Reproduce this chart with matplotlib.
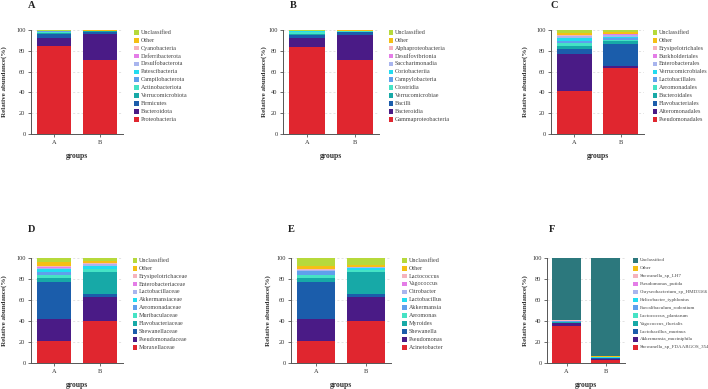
import matplotlib
matplotlib.use("Agg")
import matplotlib.pyplot as plt
from matplotlib.patches import Rectangle
import numpy as np

plt.rcParams['font.family'] = ['Liberation Serif', 'DejaVu Serif']

groups = ["A", "B"]

# ---- Panel A: phylum (bottom -> top) ----
phylum_taxa = ["Proteobacteria", "Bacteroidota", "Firmicutes", "Verrucomicrobiota",
               "Actinobacteriota", "Campilobacterota", "Patescibacteria", "Desulfobacterota",
               "Deferribacterota", "Cyanobacteria", "Other", "Unclassified"]
phylum_A = [84.2, 7.9, 3.6, 1.6, 1.2, 0.3, 0.3, 0.1, 0.1, 0.1, 0.1, 0.5]
phylum_B = [70.9, 24.8, 2.4, 0.7, 0.3, 0.1, 0.1, 0.1, 0.1, 0.0, 0.1, 0.4]

# ---- Panel B: class ----
class_taxa = ["Gammaproteobacteria", "Bacteroidia", "Bacilli", "Verrucomicrobiae",
              "Clostridia", "Campylobacteria", "Coriobacteriia", "Saccharimonadia",
              "Desulfovibrionia", "Alphaproteobacteria", "Other", "Unclassified"]
class_A = [84.0, 7.9, 3.0, 1.6, 1.6, 0.3, 0.3, 0.3, 0.1, 0.2, 0.2, 0.5]
class_B = [70.8, 24.6, 2.2, 0.7, 0.6, 0.1, 0.2, 0.1, 0.1, 0.1, 0.1, 0.4]

# ---- Panel C: order ----
order_taxa = ["Pseudomonadales", "Alteromonadales", "Flavobacteriales", "Bacteroidales",
              "Aeromonadales", "Lactobacillales", "Verrucomicrobiales", "Enterobacterales",
              "Burkholderiales", "Erysipelotrichales", "Other", "Unclassified"]
order_A = [41.7, 35.5, 4.5, 2.5, 3.5, 2.0, 3.0, 1.5, 0.5, 0.8, 1.5, 3.0]
order_B = [63.1, 2.6, 21.2, 2.8, 1.0, 1.5, 1.0, 2.0, 0.5, 0.5, 1.5, 2.3]

# ---- Panel D: family ----
family_taxa = ["Moraxellaceae", "Pseudomonadaceae", "Shewanellaceae", "Flavobacteriaceae",
               "Muribaculaceae", "Aeromonadaceae", "Akkermansiaceae", "Lactobacillaceae",
               "Enterobacteriaceae", "Erysipelotrichaceae", "Other", "Unclassified"]
family_A = [20.5, 21.5, 35.0, 4.0, 2.5, 3.0, 3.0, 1.0, 0.5, 1.0, 4.0, 4.0]
family_B = [40.3, 22.6, 3.1, 20.3, 3.2, 0.5, 2.0, 2.0, 0.5, 0.3, 2.2, 3.0]

# ---- Panel E: genus ----
genus_taxa = ["Acinetobacter", "Pseudomonas", "Shewanella", "Myroides", "Aeromonas",
              "Akkermansia", "Lactobacillus", "Citrobacter", "Vagococcus", "Lactococcus",
              "Other", "Unclassified"]
genus_A = [20.6, 21.6, 34.9, 3.8, 3.2, 3.2, 0.3, 1.2, 0.2, 0.5, 2.5, 8.0]
genus_B = [40.3, 22.5, 3.2, 20.3, 1.8, 0.5, 2.2, 0.5, 0.2, 0.3, 1.7, 6.5]

# ---- Panel F: species ----
species_taxa = ["Shewanella_sp_FDAARGOS_354", "Akkermansia_muciniphila", "Lactobacillus_murinus",
                "Vagococcus_fluvialis", "Lactococcus_plantarum", "Faecalibaculum_rodentium",
                "Helicobacter_typhlonius", "Chryseobacterium_sp_HMD3166", "Pseudomonas_putida",
                "Shewanella_sp_LH7", "Other", "Unclassified"]
species_A = [35.5, 2.5, 0.5, 0.3, 0.5, 0.3, 0.2, 0.3, 0.2, 0.2, 0.8, 58.7]
species_B = [3.0, 1.0, 0.3, 0.2, 0.5, 0.2, 0.1, 0.2, 0.1, 0.1, 0.5, 93.8]

palette = ["#E0262F", "#4A1B86", "#1B5DAB", "#17A9A7", "#45E3C5", "#5FA0EC",
           "#22DCF0", "#A9B5EE", "#E47DE7", "#F5B3BE", "#F4BF14", "#B6D93B"]
palette_F = palette[:11] + ["#2C787D"]

W, H = 708, 389
fig = plt.figure(figsize=(W / 100, H / 100), dpi=100)


def px_axes(l, r, t, b):
    return fig.add_axes([l / W, 1 - b / H, (r - l) / W, (b - t) / H])


# letter, taxa, A, B, colours, axes box px, legend x, title x, legend font, ylabel centre x
panels = [
    ("A", phylum_taxa, phylum_A, phylum_B, palette, (31, 123, 30, 134), 136.5, 32, 4.4, 4.5),
    ("B", class_taxa, class_A, class_B, palette, (283, 379, 30, 134), 391, 293, 4.4, 264),
    ("C", order_taxa, order_A, order_B, palette, (551, 644, 30, 134), 655, 554, 4.4, 525),
    ("D", family_taxa, family_A, family_B, palette, (31, 123, 258, 363), 135, 32, 4.4, 4.5),
    ("E", genus_taxa, genus_A, genus_B, palette, (291, 391, 258, 363), 404.5, 291, 4.4, 268),
    ("F", species_taxa, species_A, species_B, palette_F, (547, 625, 258, 363), 635.5, 552, 3.6, 525),
]

axis_col = "#555555"
for letter, taxa, va, vb, cols, (l, r, t, b), leg_x, title_x, lfs, ylx in panels:
    ax = px_axes(l, r, t, b)
    x = np.arange(len(groups))
    bottom = np.zeros(len(groups))
    for i, taxon in enumerate(taxa):
        vals = np.array([va[i], vb[i]])
        ax.bar(x, vals, width=0.75, bottom=bottom, color=cols[i], zorder=2, linewidth=0)
        bottom += vals
    ax.set_xlim(-0.5, 1.5)
    ax.set_ylim(0, 100)
    ax.set_yticks([0, 20, 40, 60, 80, 100])
    ax.set_xticks(x)
    ax.set_xticklabels(groups)
    for s in ["top", "right"]:
        ax.spines[s].set_visible(False)
    for s in ["left", "bottom"]:
        ax.spines[s].set_color(axis_col)
        ax.spines[s].set_linewidth(0.7)
    ax.tick_params(axis="both", labelsize=4.6, length=2.5, width=0.6, color=axis_col,
                   pad=1.5, labelcolor="#333333")
    ax.yaxis.grid(True, linestyle=(0, (3, 3)), color="#d8d8d8", linewidth=0.5, zorder=0)
    ax.set_axisbelow(True)
    ax.set_ylabel("Relative abundance(%)", fontsize=5, fontweight="bold", color="#333333")
    ax.yaxis.set_label_coords((ylx + 3 - l) / (r - l), 0.5)
    ax.set_xlabel("groups", fontsize=5.5, fontweight="bold", color="#333333")
    ax.xaxis.set_label_coords(0.5, -(18) / (b - t))

    # title letter
    ty = 6 if t < 100 else 229
    fig.text(title_x / W, 1 - ty / H, letter, fontsize=7.5, fontweight="bold",
             ha="center", va="center", color="#222222")

    # legend (top -> bottom)
    y0 = t + 2.3
    step = 7.9
    for j, idx in enumerate(range(len(taxa) - 1, -1, -1)):
        yc = y0 + j * step
        sq = 4.6
        fig.add_artist(Rectangle(((leg_x - sq / 2) / W, 1 - (yc + sq / 2) / H), sq / W, sq / H,
                                 transform=fig.transFigure, color=cols[idx], linewidth=0))
        fig.text((leg_x + 4) / W, 1 - yc / H, taxa[idx], fontsize=lfs, ha="left",
                 va="center", color="#444444")

fig.savefig("out.png", dpi=100)
